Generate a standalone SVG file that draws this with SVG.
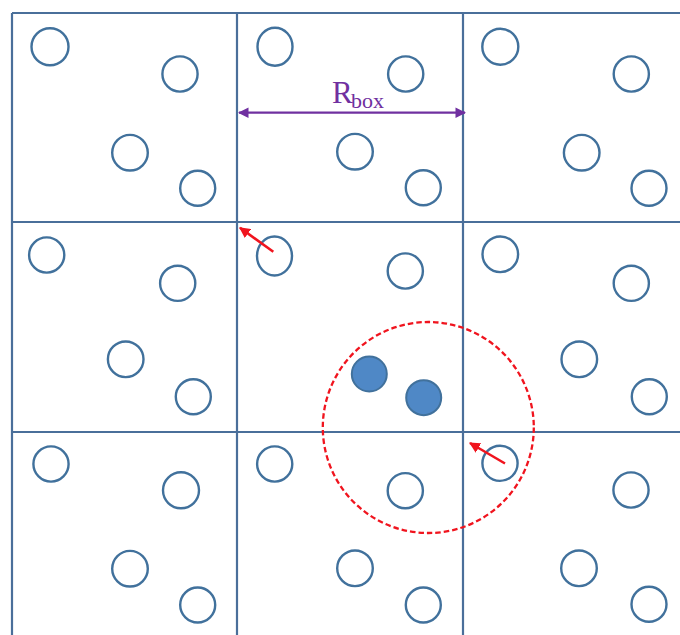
<svg xmlns="http://www.w3.org/2000/svg" width="680" height="635" viewBox="0 0 680 635">
<defs>
<style>
.grid{stroke:#4a6f9a;stroke-width:2.2;fill:none}
.p{fill:#fff;stroke:#41719c;stroke-width:2.4}
.pf{fill:#4f88c6;stroke:#41719c;stroke-width:2}
.cut{fill:none;stroke:#f0141e;stroke-width:2.3;stroke-dasharray:5.5 3}
.red{stroke:#f0141e;stroke-width:2.6;fill:none}
.pur{stroke:#7030a0;stroke-width:2.2;fill:none}
.lbl{font-family:"Liberation Serif","Times New Roman",serif;fill:#7030a0}
</style>
<marker id="ah-red" viewBox="0 0 10 10" refX="9" refY="5" markerWidth="4.2" markerHeight="4.2" orient="auto" markerUnits="strokeWidth">
<path d="M0,0 L10,5 L0,10 z" fill="#f0141e"/>
</marker>
<marker id="ah-pur" viewBox="0 0 10 10" refX="9" refY="5" markerWidth="4.8" markerHeight="4.8" orient="auto-start-reverse" markerUnits="strokeWidth">
<path d="M0,0 L10,5 L0,10 z" fill="#7030a0"/>
</marker>
</defs>
<rect width="680" height="635" fill="#fff"/>
<g id="grid">
<line class="grid" x1="12" y1="13" x2="680" y2="13"/>
<line class="grid" x1="12" y1="222" x2="680" y2="222"/>
<line class="grid" x1="12" y1="432" x2="680" y2="432"/>
<line class="grid" x1="12" y1="13" x2="12" y2="635"/>
<line class="grid" x1="237" y1="13" x2="237" y2="635"/>
<line class="grid" x1="463" y1="13" x2="463" y2="635"/>
</g>
<g id="cell-0-0">
<circle class="p" cx="50" cy="46.7" r="18.5"/>
<circle class="p" cx="180" cy="74" r="17.6"/>
<circle class="p" cx="130" cy="152.7" r="17.8"/>
<circle class="p" cx="197.7" cy="188.3" r="17.5"/>
</g>
<g id="cell-0-1">
<ellipse class="p" cx="275" cy="46.7" rx="17.5" ry="19"/>
<circle class="p" cx="405.7" cy="74" r="17.6"/>
<circle class="p" cx="355" cy="151.7" r="17.8"/>
<circle class="p" cx="423.3" cy="187.7" r="17.5"/>
</g>
<g id="cell-0-2">
<circle class="p" cx="500.3" cy="46.7" r="18"/>
<circle class="p" cx="631.3" cy="74" r="17.6"/>
<circle class="p" cx="581.7" cy="152.7" r="17.8"/>
<circle class="p" cx="649" cy="188.3" r="17.5"/>
</g>
<g id="cell-1-0">
<circle class="p" cx="46.7" cy="255" r="17.6"/>
<circle class="p" cx="177.7" cy="283.3" r="17.6"/>
<circle class="p" cx="125.7" cy="359.3" r="17.8"/>
<circle class="p" cx="193.3" cy="396.7" r="17.5"/>
</g>
<g id="cell-1-1">
<ellipse class="p" cx="274.5" cy="256" rx="17.5" ry="19.5"/>
<circle class="p" cx="405.3" cy="271" r="17.6"/>
<circle class="pf" cx="369.3" cy="374" r="17.5"/>
<circle class="pf" cx="423.7" cy="397.7" r="17.5"/>
</g>
<g id="cell-1-2">
<circle class="p" cx="500.3" cy="254.3" r="17.8"/>
<circle class="p" cx="631.3" cy="283.3" r="17.6"/>
<circle class="p" cx="579.3" cy="359.3" r="17.8"/>
<circle class="p" cx="649.3" cy="396.7" r="17.5"/>
</g>
<g id="cell-2-0">
<circle class="p" cx="51" cy="464" r="17.6"/>
<circle class="p" cx="181" cy="490.3" r="18"/>
<circle class="p" cx="130" cy="568.7" r="17.8"/>
<circle class="p" cx="197.7" cy="605" r="17.5"/>
</g>
<g id="cell-2-1">
<circle class="p" cx="274.7" cy="464" r="17.6"/>
<circle class="p" cx="405.3" cy="490.7" r="17.6"/>
<circle class="p" cx="355" cy="568.3" r="17.8"/>
<circle class="p" cx="423.3" cy="605" r="17.5"/>
</g>
<g id="cell-2-2">
<circle class="p" cx="500" cy="463.3" r="17.6"/>
<circle class="p" cx="631" cy="490" r="17.6"/>
<circle class="p" cx="579" cy="568.3" r="17.8"/>
<circle class="p" cx="649" cy="604.3" r="17.5"/>
</g>
<g id="cutoff">
<circle class="cut" cx="428.3" cy="427.5" r="105.5"/>
</g>
<g id="connectors">
<line class="red" x1="273.3" y1="251.7" x2="240" y2="227.8" marker-end="url(#ah-red)"/>
<line class="red" x1="505" y1="463.5" x2="470" y2="443" marker-end="url(#ah-red)"/>
<line class="pur" x1="239" y1="112.7" x2="465" y2="112.7" marker-start="url(#ah-pur)" marker-end="url(#ah-pur)"/>
</g>
<g id="label">
<text class="lbl" x="332" y="102.5" font-size="31">R<tspan x="351" y="107.5" font-size="22">box</tspan></text>
</g>
</svg>
